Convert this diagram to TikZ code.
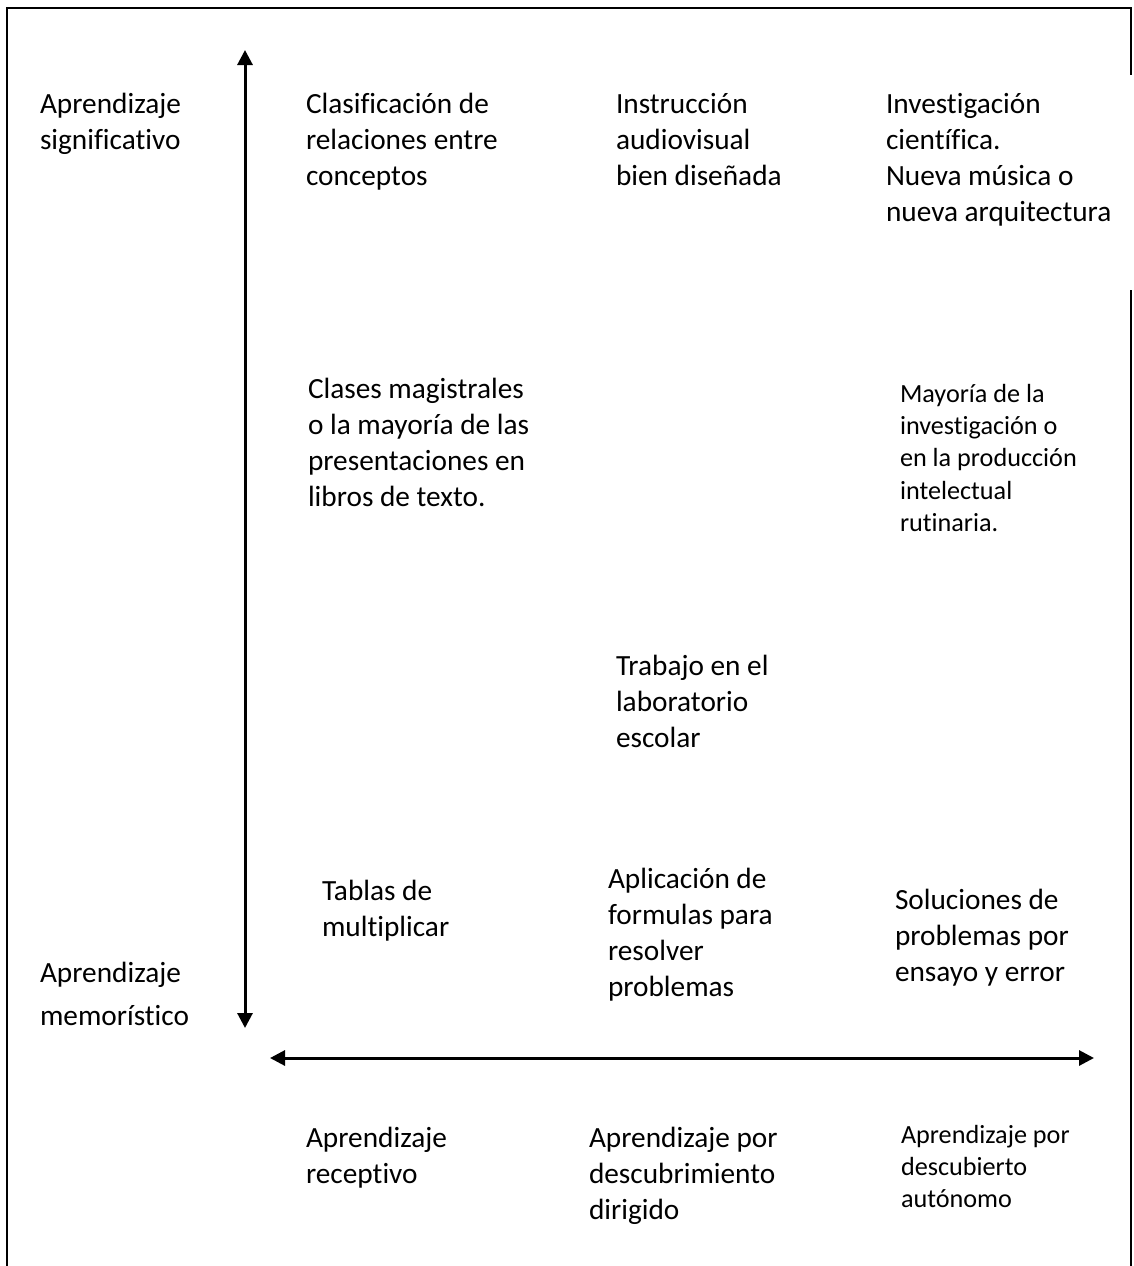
\documentclass[tikz,border=0pt]{standalone}
\usepackage{fontspec}
\setmainfont{Carlito}[Ligatures={NoCommon}]
\usetikzlibrary{arrows.meta}
\newcommand\fA{\fontsize{29.3}{36}\selectfont}
\newcommand\fB{\fontsize{26.2}{32.4}\selectfont}
\newcommand\stA{\rule{0pt}{24pt}}
\newcommand\stB{\rule{0pt}{22pt}}
\tikzset{
  lbl/.style={anchor=north west, inner sep=0pt, outer sep=0pt, align=left, font=\fA},
  lblsmall/.style={lbl, font=\fB},
  frame/.style={line width=1.5pt, black},
  axis/.style={line width=3pt, black, {Triangle[length=15pt,width=15pt]}-{Triangle[length=15pt,width=15pt]}}
}
\begin{document}
\begin{tikzpicture}[x=1pt,y=-1pt]
\useasboundingbox (0,0) rectangle (1133,1266);
% frame
\draw[frame] (7,1270) -- (7,8) -- (1131,8) -- (1131,75);
\draw[frame] (1131,290) -- (1131,1270);
% axes
\coordinate (vtop) at (245,50);
\coordinate (vbot) at (245,1028);
\coordinate (hleft) at (270,1058);
\coordinate (hright) at (1094,1058);
\draw[axis] (vbot) -- (vtop);
\draw[axis] (hleft) -- (hright);
% labels (y = first baseline - strut height)
\node[lbl] (sig) at (40,113-24) {\stA Aprendizaje\\significativo};
\node[lbl] (mem) at (40,982-24) {\stA Aprendizaje\\[7pt]memorístico};
\node[lbl] (clas) at (306,113-24) {\stA Clasificación de\\relaciones entre\\conceptos};
\node[lbl] (instr) at (616,113-24) {\stA Instrucción\\audiovisual\\bien diseñada};
\node[lbl] (inv) at (886,113-24) {\stA Investigación\\científica.\\Nueva música o\\nueva arquitectura};
\node[lbl] (clases) at (308,398-24) {\stA Clases magistrales\\o la mayoría de las\\presentaciones en\\libros de texto.};
\node[lblsmall] (mayo) at (900,402-22) {\stB Mayoría de la\\investigación o\\en la producción\\intelectual\\rutinaria.};
\node[lbl] (trab) at (616,675-24) {\stA Trabajo en el\\laboratorio\\escolar};
\node[lbl] (tabl) at (322,900-24) {\stA Tablas de\\multiplicar};
\node[lbl] (aplic) at (608,888-24) {\stA Aplicación de\\formulas para\\resolver\\problemas};
\node[lbl] (sol) at (895,909-24) {\stA Soluciones de\\problemas por\\ensayo y error};
\node[lbl] (rec) at (306,1147-24) {\stA Aprendizaje\\receptivo};
\node[lbl] (dir) at (589,1147-24) {\stA Aprendizaje por\\descubrimiento\\dirigido};
\node[lblsmall] (aut) at (901,1143-22) {\stB Aprendizaje por\\descubierto\\autónomo};
\end{tikzpicture}
\end{document}
